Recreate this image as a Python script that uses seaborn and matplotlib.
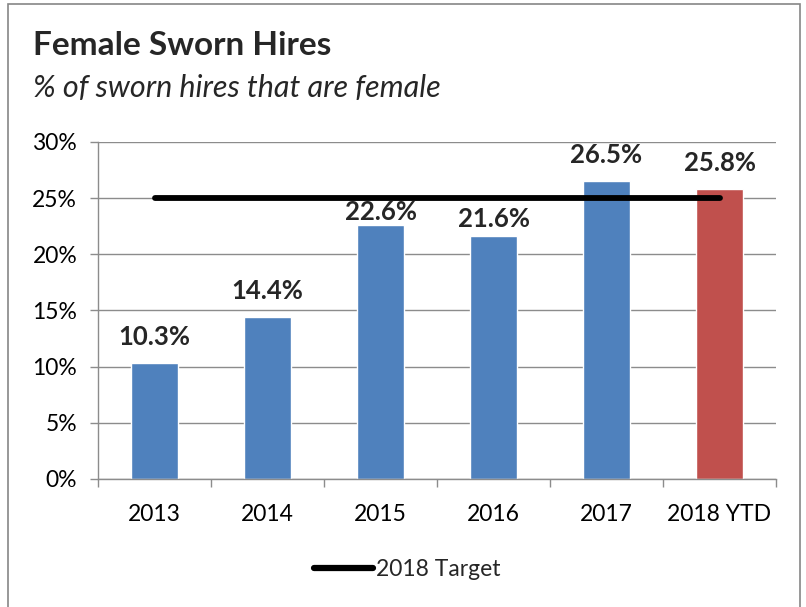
import pandas as pd
import matplotlib.pyplot as plt
import seaborn as sns
from matplotlib.patches import Rectangle
from matplotlib.lines import Line2D
from matplotlib.ticker import FuncFormatter

years = ["2013", "2014", "2015", "2016", "2017", "2018 YTD"]
pct_female = [10.3, 14.4, 22.6, 21.6, 26.5, 25.8]
target_2018 = [25, 25, 25, 25, 25, 25]
bar_colors = ["#4F81BD", "#4F81BD", "#4F81BD", "#4F81BD", "#4F81BD", "#C0504D"]
# vertical offset of each value label above its bar, in points
label_offsets = [10, 10, 1, 4, 10, 10]

sns.set_theme(style="white")
plt.rcParams["font.family"] = ["Lato", "DejaVu Sans"]

df = pd.DataFrame({"year": years, "pct": pct_female, "target": target_2018})

fig = plt.figure(figsize=(8.06, 6.07), dpi=100)
ax = fig.add_axes([0.1216, 0.2109, 0.8412, 0.5552])

sns.barplot(data=df, x="year", y="pct", hue="year", palette=bar_colors,
            width=0.41, saturation=1, legend=False, ax=ax)
ax.plot(range(len(years)), df["target"], color="black", lw=4.2,
        solid_capstyle="round", zorder=3)

for i, v in enumerate(pct_female):
    ax.annotate(f"{v:.1f}%", (i, v), xytext=(0, label_offsets[i]), textcoords="offset points",
                ha="center", va="bottom", fontsize=18.5, fontweight="bold")

ax.set_ylim(0, 30)
ax.set_xlim(-0.5, len(years) - 0.5)
ax.set_yticks(range(0, 31, 5))
ax.yaxis.set_major_formatter(FuncFormatter(lambda y, _: f"{y:.0f}%"))
ax.yaxis.grid(True, color="#8c8c8c", lw=1)
ax.set_axisbelow(True)
ax.set_xlabel("")
ax.set_ylabel("")
for s in ["top", "right"]:
    ax.spines[s].set_visible(False)
for s in ["left", "bottom"]:
    ax.spines[s].set_color("#8c8c8c")
    ax.spines[s].set_linewidth(1)

ax.set_xticks([i - 0.5 for i in range(len(years) + 1)], minor=True)
ax.tick_params(axis="x", which="minor", length=6, color="#8c8c8c", width=1, bottom=True)
ax.tick_params(axis="x", which="major", length=0, labelsize=16.5, pad=18, colors="black")
ax.tick_params(axis="y", length=6, color="#8c8c8c", width=1, left=True, labelsize=16.5,
               pad=9, colors="black")

target_handle = Line2D([], [], color="black", lw=4.5, solid_capstyle="round")
fig.legend(handles=[target_handle], labels=["2018 Target"], loc="center",
           bbox_to_anchor=(0.505, 0.0625), frameon=False, fontsize=16.5,
           handlelength=2.6, handletextpad=0.1)

fig.text(0.041, 0.925, "Female Sworn Hires", fontsize=24, fontweight="bold", va="center")
fig.text(0.041, 0.855, "% of sworn hires that are female", fontsize=22, style="italic", va="center")

fig.patches.append(Rectangle((0.0099, -0.01), 0.9826, 1.003, transform=fig.transFigure,
                             fill=False, edgecolor="#868686", lw=1.2))

fig.savefig("out.png", dpi=100)
